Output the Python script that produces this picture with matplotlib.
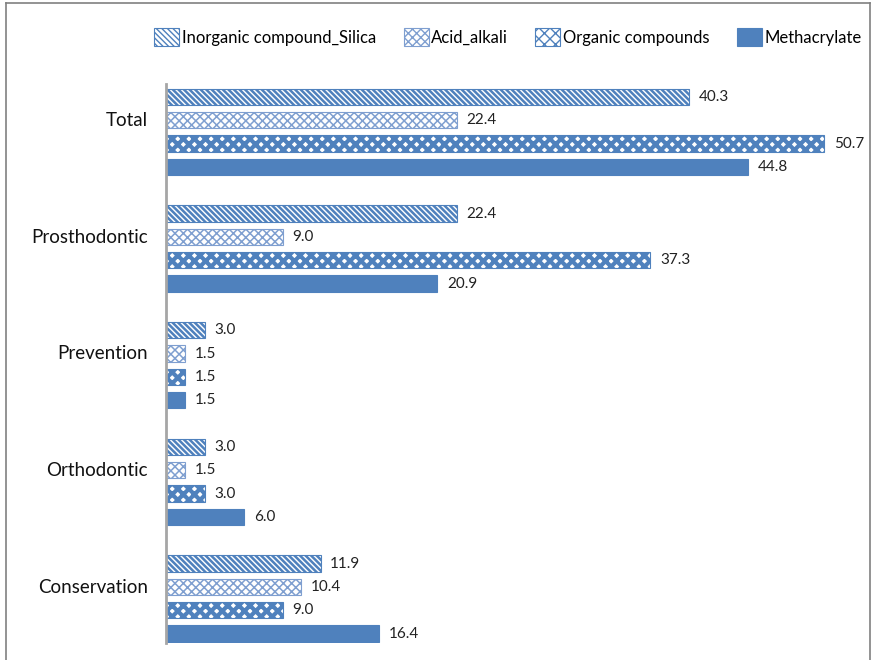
import numpy as np
import matplotlib
matplotlib.use('Agg')
from matplotlib import pyplot as plt
from matplotlib.lines import Line2D

plt.rcParams['font.family'] = ['Lato', 'DejaVu Sans']

categories = ['Total', 'Prosthodontic', 'Prevention', 'Orthodontic', 'Conservation']
series = ['Inorganic compound_Silica', 'Acid_alkali', 'Organic compounds', 'Methacrylate']
silica = [40.3, 22.4, 3.0, 3.0, 11.9]
acid_alkali = [22.4, 9.0, 1.5, 1.5, 10.4]
organic = [50.7, 37.3, 1.5, 3.0, 9.0]
methacrylate = [44.8, 20.9, 1.5, 6.0, 16.4]

blue = '#4F81BD'
light_blue = '#7F9FD0'


def draw_chart():
    fig = plt.figure(figsize=(8.76, 6.6), dpi=100)
    ax = fig.add_axes([166 / 876, 1 - 643 / 660, 700 / 876, 559 / 660])

    pos = np.arange(len(categories))[::-1].astype(float)  # Total at top
    offsets = [0.3, 0.1, -0.1, -0.3]
    height = 0.14
    styles = [
        dict(facecolor='white', edgecolor=blue, hatch='\\\\\\\\\\\\', hlw=1.8),
        dict(facecolor='white', edgecolor=light_blue, hatch='xxxx', hlw=1.1),
        dict(facecolor='white', edgecolor=blue, hatch='xxx', hlw=3.0),
        dict(facecolor=blue, edgecolor=blue, hatch=None, hlw=1.0),
    ]
    data = [silica, acid_alkali, organic, methacrylate]

    for name, vals, off, st in zip(series, data, offsets, styles):
        with plt.rc_context({'hatch.linewidth': st['hlw'], 'hatch.color': st['edgecolor']}):
            bars = ax.barh(pos + off, vals, height=height, facecolor=st['facecolor'],
                           edgecolor=st['edgecolor'], hatch=st['hatch'], linewidth=0.8,
                           label=name)
            for b in bars:
                if hasattr(b, 'set_hatch_linewidth'):
                    b.set_hatch_linewidth(st['hlw'])
        ax.bar_label(bars, labels=['%.1f' % v for v in vals], padding=7,
                     fontsize=11, color='#222222')

    ax.set_yticks(pos + 0.11)
    ax.set_yticklabels(categories, fontsize=13.5, color='#111111')
    ax.tick_params(axis='y', length=0, pad=13)
    ax.set_xticks([])
    ax.set_xlim(0, 53.9)
    ax.set_ylim(-0.38, 4.41)
    for s in ['top', 'right', 'bottom']:
        ax.spines[s].set_visible(False)
    ax.spines['left'].set_color('#A6A6A6')
    ax.spines['left'].set_linewidth(2)

    handles, labels = ax.get_legend_handles_labels()
    fig.legend(handles, labels, loc='center', bbox_to_anchor=(508 / 876, 1 - 37 / 660),
               ncol=4, frameon=False, fontsize=12, handlelength=1.5, handleheight=1.2,
               handletextpad=0.15, columnspacing=1.65)

    # outer frame
    c = '#808080'
    fig.add_artist(Line2D([6 / 876, 6 / 876], [0, 1 - 3 / 660], color=c, lw=1.2))
    fig.add_artist(Line2D([6 / 876, 870 / 876], [1 - 3 / 660, 1 - 3 / 660], color=c, lw=1.2))
    fig.add_artist(Line2D([870 / 876, 870 / 876], [0, 1 - 3 / 660], color=c, lw=1.2))

    fig.savefig('out.png', dpi=100)


def main():
    draw_chart()


if __name__ == '__main__':
    main()
